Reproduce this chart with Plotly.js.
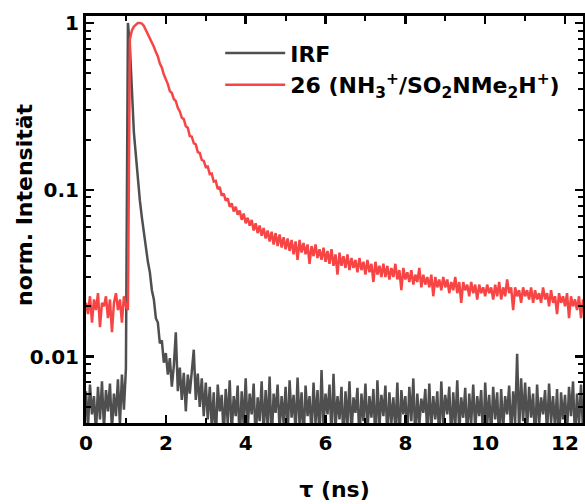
<!DOCTYPE html>
<html>
<head>
<meta charset="utf-8">
<script src="https://cdn.plot.ly/plotly-3.0.1.min.js"></script>
<style>html,body{margin:0;padding:0;background:#fff}#chart{width:585px;height:504px}</style>
</head>
<body>
<div id="chart"></div>
<script>
// time step of the sampled decays (ns)
const dt = 0.05;

// IRF, normalised
const irf = [
0.0062,0.0038,0.0068,0.0045,0.0058,0.0035,0.0066,0.0042,0.0071,0.0037,0.0063,0.0047,0.0069,0.0036,0.0060,0.0044,0.0073,0.0039,0.0078,0.0048,0.0085,
1.0,0.72,0.40,0.22,0.16,0.11,0.086,0.068,0.055,0.046,
0.037,0.032,0.025,0.022,0.017,0.016,0.012,0.0125,0.0092,0.0105,
0.0078,0.0098,0.0066,0.0088,0.0140,0.0062,0.0086,0.0055,0.0080,0.0047,
0.0078,0.0060,0.0086,0.0110,0.0055,0.0079,0.0050,0.0074,0.0044,0.0070,
0.0042,0.0066,0.0038,0.0061,0.0030,0.0068,0.0047,0.0059,0.0033,0.0064,
0.0040,0.0072,0.0035,0.0058,0.0044,0.0067,0.0030,0.0062,0.0039,0.0074,
0.0036,0.0060,0.0045,0.0069,0.0031,0.0057,0.0041,0.0071,0.0034,0.0063,
0.0038,0.0076,0.0030,0.0060,0.0046,0.0068,0.0036,0.0058,0.0040,0.0066,
0.0032,0.0072,0.0043,0.0059,0.0035,0.0075,0.0039,0.0061,0.0030,0.0067,
0.0044,0.0058,0.0034,0.0070,0.0040,0.0063,0.0031,0.0083,0.0038,0.0060,
0.0045,0.0068,0.0033,0.0079,0.0037,0.0058,0.0042,0.0066,0.0030,0.0062,
0.0039,0.0071,0.0034,0.0057,0.0046,0.0065,0.0031,0.0060,0.0041,0.0069,
0.0035,0.0058,0.0043,0.0064,0.0030,0.0072,0.0038,0.0059,0.0044,0.0067,
0.0032,0.0061,0.0040,0.0057,0.0036,0.0070,0.0030,0.0063,0.0045,0.0058,
0.0034,0.0066,0.0041,0.0074,0.0031,0.0060,0.0039,0.0056,0.0046,0.0064,
0.0033,0.0069,0.0037,0.0058,0.0042,0.0062,0.0030,0.0071,0.0040,0.0059,
0.0045,0.0066,0.0032,0.0061,0.0038,0.0072,0.0035,0.0057,0.0043,0.0065,
0.0031,0.0060,0.0040,0.0068,0.0036,0.0058,0.0044,0.0063,0.0030,0.0070,
0.0039,0.0059,0.0034,0.0066,0.0042,0.0061,0.0031,0.0064,0.0037,0.0058,
0.0045,0.0067,0.0033,0.0062,0.0040,0.0104,0.0035,0.0074,0.0041,0.0070,
0.0036,0.0066,0.0043,0.0060,0.0031,0.0068,0.0039,0.0057,0.0045,0.0063,
0.0034,0.0069,0.0040,0.0058,0.0037,0.0064,0.0030,0.0061,0.0042,0.0059,
0.0035,0.0066,0.0044,0.0071,0.0032,0.0060,0.0039,0.0068,0.0036,0.0062
];

// compound 26 decay, normalised
const comp26 = [
0.021,0.018,0.023,0.016,0.022,0.019,0.024,0.015,0.021,0.020,0.023,0.017,0.022,0.014,0.021,0.024,0.019,0.022,0.016,0.023,0.020,
0.019,0.80,0.90,0.95,0.98,1.0,1.0,0.99,0.96,0.91,
0.86,0.81,0.76,0.72,0.67,0.63,0.57,0.54,0.49,0.46,
0.43,0.39,0.38,0.35,0.34,0.31,0.295,0.27,0.265,0.24,
0.235,0.21,0.208,0.19,0.187,0.168,0.166,0.151,0.149,0.137,
0.138,0.124,0.125,0.112,0.113,0.101,0.104,0.092,0.095,0.086,
0.089,0.079,0.083,0.074,0.079,0.071,0.075,0.066,0.072,0.063,
0.068,0.061,0.066,0.057,0.063,0.055,0.061,0.053,0.059,0.051,
0.057,0.049,0.056,0.047,0.055,0.046,0.054,0.045,0.052,0.044,
0.051,0.043,0.050,0.041,0.049,0.038,0.050,0.042,0.048,0.041,
0.047,0.036,0.046,0.040,0.047,0.039,0.044,0.038,0.045,0.037,
0.043,0.036,0.044,0.035,0.041,0.031,0.042,0.035,0.040,0.034,
0.041,0.033,0.039,0.034,0.038,0.032,0.039,0.033,0.037,0.031,
0.038,0.032,0.036,0.028,0.037,0.031,0.035,0.030,0.036,0.030,
0.035,0.029,0.034,0.030,0.036,0.029,0.033,0.025,0.034,0.029,
0.032,0.028,0.033,0.027,0.031,0.028,0.034,0.026,0.031,0.027,
0.030,0.026,0.031,0.023,0.030,0.026,0.029,0.025,0.030,0.026,
0.029,0.024,0.028,0.025,0.030,0.024,0.028,0.021,0.028,0.025,
0.027,0.023,0.028,0.024,0.027,0.022,0.027,0.024,0.026,0.023,
0.027,0.024,0.026,0.022,0.027,0.023,0.028,0.022,0.026,0.023,
0.029,0.024,0.026,0.019,0.026,0.023,0.025,0.021,0.026,0.023,
0.025,0.022,0.026,0.021,0.025,0.022,0.024,0.021,0.026,0.022,
0.024,0.020,0.025,0.021,0.023,0.018,0.024,0.021,0.023,0.020,
0.024,0.017,0.023,0.020,0.022,0.019,0.023,0.017,0.022,0.020
];

const seriesNames = ['IRF', '26 (NH<sub>3</sub><sup>+</sup>/SO<sub>2</sub>NMe<sub>2</sub>H<sup>+</sup>)'];
const yTickVals = [0.01, 0.1, 1];
const yTickText = ['0.01', '0.1', '1'];
const xTickVals = [0, 2, 4, 6, 8, 10, 12];
const xTitle = 'τ (ns)';
const yTitle = 'norm. Intensität';

const tau = irf.map((_, i) => +(i * dt).toFixed(2));
const yMinor = [];
[0.001, 0.01, 0.1].forEach(d => { for (let k = 2; k <= 9; k++) yMinor.push(+(k * d).toPrecision(3)); });

const FONT = 'DejaVu Sans, Liberation Sans, Arial, sans-serif';

const traces = [
  {x: tau, y: irf, name: seriesNames[0], type: 'scatter', mode: 'lines',
   line: {color: '#4f4f4f', width: 2.5}},
  {x: tau, y: comp26, name: seriesNames[1], type: 'scatter', mode: 'lines',
   line: {color: '#f74545', width: 2.5}}
];

const axisCommon = {
  showline: true, linewidth: 3, linecolor: '#000', mirror: 'ticks',
  ticks: 'inside', ticklen: 8, tickwidth: 2.5, tickcolor: '#000',
  showgrid: false, zeroline: false,
  tickfont: {family: FONT, size: 20, color: '#000', weight: 'bold'}
};

const layout = {
  width: 585, height: 504,
  margin: {l: 86, r: 2, t: 16, b: 81},
  paper_bgcolor: '#fff', plot_bgcolor: '#fff',
  showlegend: true,
  legend: {x: 0.27, y: 0.96, xanchor: 'left', yanchor: 'top', bgcolor: 'rgba(0,0,0,0)',
           borderwidth: 0, itemwidth: 60,
           font: {family: FONT, size: 22, color: '#000', weight: 'bold'}},
  xaxis: Object.assign({}, axisCommon, {
    range: [0, 12.45], tickvals: xTickVals,
    minor: {ticks: 'inside', dtick: 1, tick0: 0, ticklen: 5, tickwidth: 2, tickcolor: '#000'},
    title: {text: xTitle, standoff: 28, font: {family: FONT, size: 22, color: '#000', weight: 'bold'}}
  }),
  yaxis: Object.assign({}, axisCommon, {
    type: 'log', range: [Math.log10(0.004), Math.log10(1.1)],
    tickvals: yTickVals, ticktext: yTickText,
    minor: {ticks: 'inside', tickvals: yMinor, ticklen: 5, tickwidth: 2, tickcolor: '#000'}
  }),
  annotations: [
    {text: yTitle, xref: 'paper', yref: 'paper', x: -0.125, y: 0.538,
     xanchor: 'center', yanchor: 'middle', textangle: -90, showarrow: false,
     font: {family: FONT, size: 22, color: '#000', weight: 'bold'}}
  ]
};

Plotly.newPlot('chart', traces, layout, {staticPlot: true, displayModeBar: false});
</script>
</body>
</html>
